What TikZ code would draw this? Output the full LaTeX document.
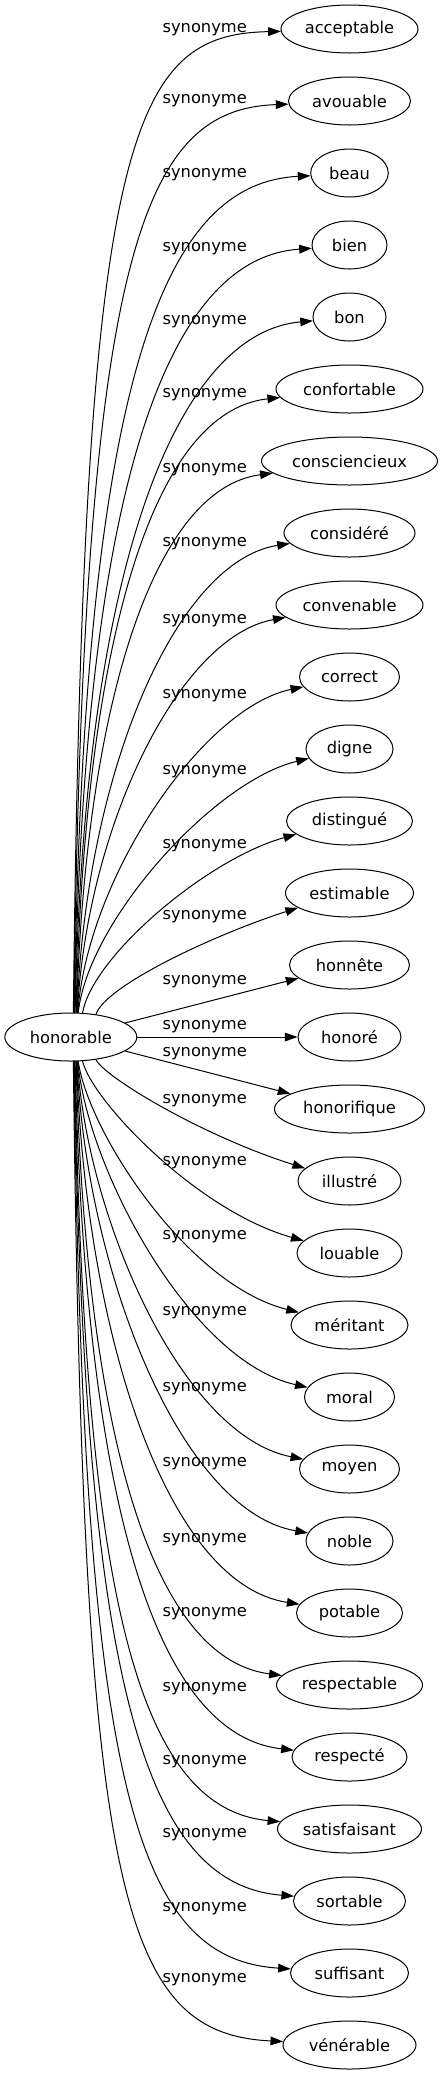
\documentclass[tikz,border=0pt]{standalone}
\usepackage{fontspec}
\setmainfont{DejaVu Sans}
\usetikzlibrary{calc,arrows.meta,shapes.geometric}
\begin{document}
\begin{tikzpicture}[x=0.75pt,y=-0.75pt,
  word/.style={ellipse,draw,line width=0.75pt,inner sep=0pt,minimum height=36pt,font=\fontsize{12.2}{14}\selectfont},
  lab/.style={inner sep=0pt,font=\fontsize{12.2}{14}\selectfont},
  edge/.style={line width=0.75pt,-{Triangle[length=9.5pt,width=6.5pt]}}]
\useasboundingbox (0,0) rectangle (443,2075);
\node[word,minimum width=99pt] (h) at (70.8,1037) {honorable};
\foreach \nm/\w/\ly [count=\i from 0] in {
 acceptable/137/30, avouable/122/100.7, beau/77.6/175, bien/75/248.3,
 bon/73/321.7, confortable/147/395, consciencieux/176/470, considéré/131/544,
 convenable/147/620.7, correct/100/695.7, digne/87/771.7, distingué/126/846,
 estimable/128/917, honnête/120/981.7, honoré/103/1026.7, honorifique/150/1054,
 illustré/103/1101, louable/105/1162.7, méritant/117/1236.7, moral/90/1312.7,
 moyen/100/1388.3, noble/87/1463.3, potable/106/1539.3, respectable/146/1613.3,
 respecté/115/1688.3, satisfaisant/144/1761.7, sortable/112/1835,
 suffisant/118/1908.3, vénérable/133/1980} {
  \pgfmathsetmacro{\ty}{29+72*\i}
  \node[word,minimum width=\w*0.75pt] (n\i) at (349.5,\ty) {\nm};
  \node[lab] (l\i) at (204.7,\ly) {synonyme};
  \pgfmathtruncatemacro{\dd}{abs(\i-14)}
  \ifnum\dd<2
    \draw[edge] (h) -- (n\i);
  \else
    \pgfmathsetmacro{\sx}{\dd==2 ? 95 : (\dd==3 ? 82 : 78-(\dd-4)*0.5)}
    \pgfmathsetmacro{\sdy}{24*sqrt(1-((\sx-70.8)/66)^2)}
    \pgfmathsetmacro{\hang}{atan2(\sdy,\sx-70.8)}
    \ifnum\i<14
      \pgfmathsetmacro{\sy}{1037-\sdy}
      \pgfmathsetmacro{\ang}{196-(\dd-2)*1.15}
      \pgfmathsetmacro{\ff}{0.3+(\dd-3)*0.0545}
      \pgfmathsetmacro{\cy}{\sy-\ff*(\sy-\ty-5)}
      \pgfmathsetmacro{\ddx}{-(90+(\dd-3)*5.55)}
      \pgfmathsetmacro{\ddy}{25-(\dd-3)*2}
      \pgfmathsetmacro{\sa}{\hang}
    \else
      \pgfmathsetmacro{\sy}{1037+\sdy}
      \pgfmathsetmacro{\ang}{164+(\dd-2)*1.15}
      \pgfmathsetmacro{\ff}{0.21+(\dd-3)*0.058}
      \pgfmathsetmacro{\cy}{\sy+\ff*(\ty-2-\sy)}
      \pgfmathsetmacro{\ddx}{-(107+(\dd-3)*5.1)}
      \pgfmathsetmacro{\ddy}{-(30-(\dd-3)*2)}
      \pgfmathsetmacro{\sa}{-\hang}
    \fi
    \pgfmathsetmacro{\cx}{\sx+10}
    \draw[edge] (h.\sa) .. controls (\cx,\cy) and ($(n\i.\ang)+(\ddx,\ddy)$) .. (n\i.\ang);
  \fi
}
\end{tikzpicture}
\end{document}
